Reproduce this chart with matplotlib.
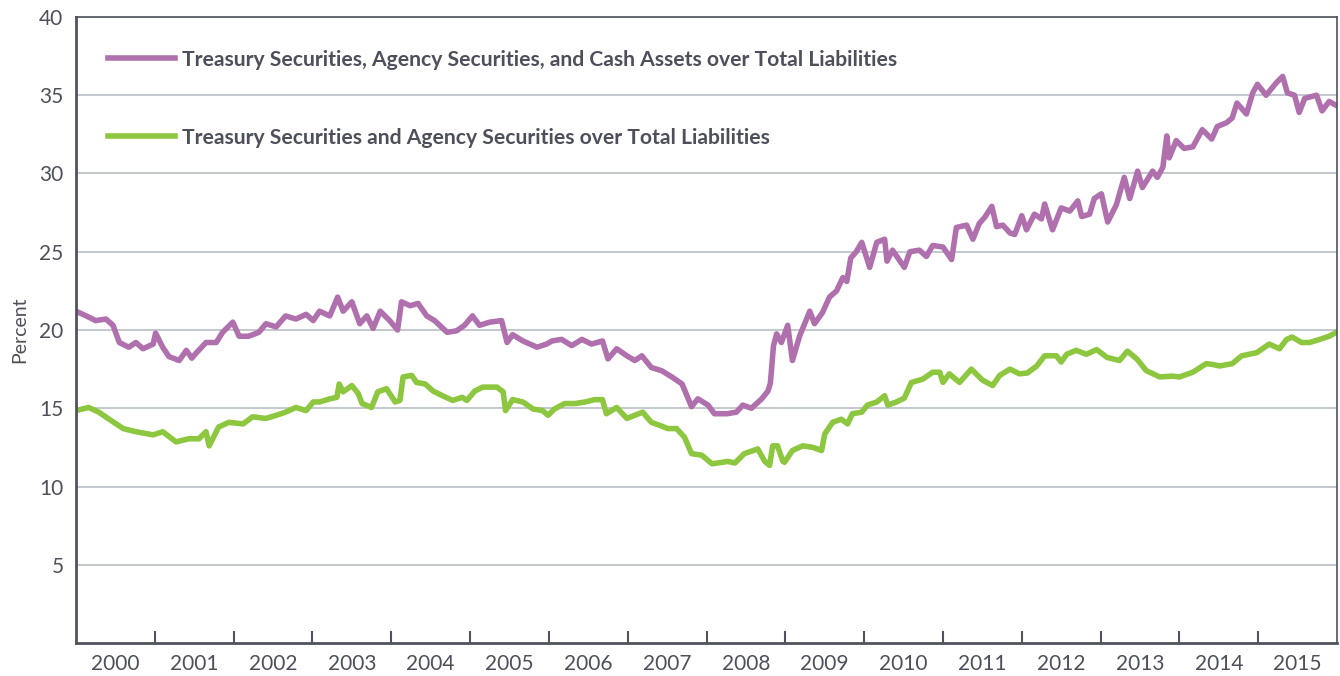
import numpy as np
import matplotlib
matplotlib.use("Agg")
import matplotlib.pyplot as plt

# Treasury + agency + cash assets over total liabilities (percent)
years_a = [2000.00, 2000.13, 2000.25, 2000.38, 2000.47, 2000.55, 2000.67, 2000.76, 2000.85, 2000.98,
           2001.01, 2001.10, 2001.18, 2001.31, 2001.40, 2001.47, 2001.52, 2001.65, 2001.78, 2001.86,
           2001.99, 2002.07, 2002.19, 2002.32, 2002.41, 2002.54, 2002.66, 2002.79, 2002.92, 2003.01,
           2003.09, 2003.22, 2003.32, 2003.39, 2003.50, 2003.60, 2003.69, 2003.77, 2003.86, 2003.98,
           2004.08, 2004.13, 2004.24, 2004.34, 2004.45, 2004.55, 2004.71, 2004.83, 2004.93, 2005.03,
           2005.12, 2005.25, 2005.40, 2005.47, 2005.54, 2005.67, 2005.85, 2005.97, 2006.04, 2006.16,
           2006.29, 2006.42, 2006.54, 2006.68, 2006.75, 2006.86, 2006.99, 2007.09, 2007.18, 2007.30,
           2007.43, 2007.56, 2007.69, 2007.81, 2007.89, 2008.02, 2008.10, 2008.26, 2008.38, 2008.46,
           2008.57, 2008.70, 2008.78, 2008.81, 2008.85, 2008.89, 2008.95, 2009.03, 2009.09, 2009.18,
           2009.31, 2009.37, 2009.47, 2009.56, 2009.65, 2009.73, 2009.78, 2009.83, 2009.90, 2009.97,
           2010.07, 2010.16, 2010.26, 2010.29, 2010.36, 2010.51, 2010.58, 2010.70, 2010.79, 2010.87,
           2011.00, 2011.11, 2011.17, 2011.30, 2011.38, 2011.46, 2011.53, 2011.62, 2011.68, 2011.76,
           2011.85, 2011.91, 2012.00, 2012.06, 2012.16, 2012.25, 2012.29, 2012.39, 2012.50, 2012.61,
           2012.71, 2012.76, 2012.86, 2012.92, 2013.01, 2013.09, 2013.20, 2013.30, 2013.37, 2013.47,
           2013.53, 2013.66, 2013.72, 2013.79, 2013.84, 2013.87, 2013.96, 2014.06, 2014.17, 2014.29,
           2014.41, 2014.48, 2014.60, 2014.67, 2014.73, 2014.85, 2014.93, 2014.99, 2015.10, 2015.23,
           2015.31, 2015.37, 2015.46, 2015.52, 2015.59, 2015.74, 2015.81, 2015.90, 2015.99]
with_cash = [21.2, 20.9, 20.6, 20.7, 20.3, 19.2, 18.9, 19.2, 18.8, 19.1,
             19.8, 18.9, 18.3, 18.05, 18.7, 18.2, 18.5, 19.2, 19.2, 19.85,
             20.5, 19.6, 19.6, 19.85, 20.4, 20.2, 20.9, 20.7, 21.0, 20.6,
             21.2, 20.9, 22.1, 21.2, 21.8, 20.4, 20.9, 20.1, 21.2, 20.6,
             20.0, 21.8, 21.55, 21.7, 20.9, 20.6, 19.85, 19.95, 20.3, 20.9,
             20.3, 20.5, 20.6, 19.2, 19.7, 19.3, 18.9, 19.1, 19.3, 19.4,
             19.0, 19.4, 19.1, 19.3, 18.15, 18.8, 18.35, 18.05, 18.35, 17.6,
             17.4, 17.0, 16.55, 15.1, 15.6, 15.2, 14.65, 14.65, 14.75, 15.2,
             15.0, 15.6, 16.1, 16.6, 19.0, 19.75, 19.2, 20.3, 18.05, 19.6,
             21.2, 20.4, 21.1, 22.1, 22.5, 23.35, 23.1, 24.6, 25.0, 25.6,
             24.0, 25.6, 25.8, 24.4, 25.1, 24.0, 25.0, 25.1, 24.7, 25.4,
             25.3, 24.5, 26.55, 26.7, 25.8, 26.8, 27.2, 27.9, 26.6, 26.7,
             26.2, 26.1, 27.3, 26.4, 27.4, 27.1, 28.05, 26.4, 27.8, 27.6,
             28.25, 27.25, 27.4, 28.4, 28.7, 26.9, 28.0, 29.75, 28.4, 30.15,
             29.1, 30.15, 29.75, 30.4, 32.4, 31.0, 32.1, 31.6, 31.7, 32.8,
             32.2, 33.0, 33.25, 33.55, 34.5, 33.8, 35.15, 35.7, 35.0, 35.8,
             36.2, 35.15, 35.0, 33.9, 34.8, 35.0, 34.0, 34.6, 34.35]

# Treasury + agency securities over total liabilities (percent)
years_b = [2000.00, 2000.16, 2000.29, 2000.42, 2000.60, 2000.76, 2000.98, 2001.10, 2001.27, 2001.43,
           2001.56, 2001.65, 2001.69, 2001.81, 2001.94, 2002.12, 2002.24, 2002.41, 2002.54, 2002.66,
           2002.79, 2002.92, 2003.01, 2003.09, 2003.22, 2003.31, 2003.34, 2003.39, 2003.50, 2003.58,
           2003.63, 2003.75, 2003.83, 2003.94, 2004.05, 2004.11, 2004.15, 2004.26, 2004.32, 2004.43,
           2004.53, 2004.65, 2004.78, 2004.90, 2004.96, 2005.06, 2005.16, 2005.34, 2005.42, 2005.45,
           2005.54, 2005.67, 2005.80, 2005.92, 2005.99, 2006.07, 2006.20, 2006.33, 2006.46, 2006.58,
           2006.68, 2006.73, 2006.86, 2006.99, 2007.09, 2007.19, 2007.30, 2007.41, 2007.51, 2007.62,
           2007.72, 2007.81, 2007.94, 2008.07, 2008.14, 2008.27, 2008.36, 2008.48, 2008.65, 2008.74,
           2008.80, 2008.84, 2008.90, 2008.97, 2008.99, 2009.09, 2009.22, 2009.35, 2009.46, 2009.50,
           2009.60, 2009.71, 2009.79, 2009.85, 2009.97, 2010.04, 2010.16, 2010.26, 2010.30, 2010.41,
           2010.51, 2010.60, 2010.74, 2010.87, 2010.96, 2011.00, 2011.08, 2011.21, 2011.36, 2011.50,
           2011.63, 2011.72, 2011.85, 2011.97, 2012.07, 2012.19, 2012.29, 2012.44, 2012.50, 2012.57,
           2012.69, 2012.82, 2012.95, 2013.08, 2013.24, 2013.34, 2013.46, 2013.58, 2013.75, 2013.91,
           2014.00, 2014.17, 2014.34, 2014.42, 2014.51, 2014.67, 2014.79, 2014.98, 2015.14, 2015.27,
           2015.36, 2015.43, 2015.55, 2015.65, 2015.78, 2015.90, 2015.99]
securities = [14.85, 15.05, 14.75, 14.3, 13.7, 13.5, 13.3, 13.5, 12.85, 13.05,
              13.05, 13.5, 12.6, 13.8, 14.1, 14.0, 14.45, 14.35, 14.55, 14.75,
              15.05, 14.85, 15.4, 15.4, 15.6, 15.7, 16.55, 16.05, 16.45, 15.95,
              15.3, 15.05, 16.05, 16.25, 15.4, 15.5, 17.0, 17.1, 16.65, 16.55,
              16.1, 15.8, 15.5, 15.7, 15.5, 16.1, 16.35, 16.35, 16.05, 14.85,
              15.55, 15.4, 14.95, 14.85, 14.55, 14.95, 15.3, 15.3, 15.4, 15.55,
              15.55, 14.65, 15.05, 14.35, 14.55, 14.75, 14.1, 13.9, 13.7, 13.7,
              13.15, 12.1, 12.0, 11.45, 11.5, 11.6, 11.5, 12.1, 12.4, 11.6,
              11.35, 12.6, 12.6, 11.6, 11.55, 12.3, 12.6, 12.5, 12.3, 13.35,
              14.1, 14.3, 14.0, 14.65, 14.75, 15.2, 15.4, 15.8, 15.2, 15.4,
              15.65, 16.65, 16.85, 17.3, 17.3, 16.65, 17.2, 16.65, 17.5, 16.8,
              16.45, 17.1, 17.5, 17.2, 17.25, 17.7, 18.35, 18.35, 17.95, 18.45,
              18.7, 18.45, 18.75, 18.25, 18.05, 18.65, 18.15, 17.4, 17.0, 17.05,
              17.0, 17.3, 17.85, 17.8, 17.7, 17.85, 18.35, 18.55, 19.1, 18.8,
              19.4, 19.55, 19.2, 19.2, 19.4, 19.6, 19.85]

year_labels = [str(y) for y in range(2000, 2016)]
label_a = "Treasury Securities, Agency Securities, and Cash Assets over Total Liabilities"
label_b = "Treasury Securities and Agency Securities over Total Liabilities"

text_color = "#4d505b"
purple = "#b070ae"
green = "#8dc63f"

plt.rcParams['font.family'] = ['Lato', 'DejaVu Sans']

fig = plt.figure(figsize=(13.4, 6.76), dpi=100)
ax = fig.add_axes([0.0567, 0.0488, 0.9411, 0.9261])

ax.plot(years_a, with_cash, color=purple, lw=4.0, solid_joinstyle='round', label=label_a)
ax.plot(years_b, securities, color=green, lw=4.0, solid_joinstyle='round', label=label_b)

ax.set_xlim(2000, 2016)
ax.set_ylim(0, 40)

# y axis: labels only, horizontal grid
ax.set_yticks(range(5, 45, 5))
ax.tick_params(axis='y', length=0, pad=9, labelsize=15, labelcolor=text_color)
ax.grid(axis='y', color='#b9bfc7', lw=1.2)
ax.set_axisbelow(True)
ax.set_ylabel("Percent", fontsize=14, color=text_color, labelpad=8)

# x axis: ticks at year boundaries, labels centred in each year
ax.set_xticks(range(2001, 2016))
ax.set_xticklabels([])
ax.set_xticks(np.arange(2000.5, 2016, 1), minor=True)
ax.set_xticklabels(year_labels, minor=True)
ax.tick_params(axis='x', which='major', direction='in', length=9, width=1.5, color='#50535e')
ax.tick_params(axis='x', which='minor', length=0, pad=8, labelsize=15, labelcolor=text_color)

for side in ['left', 'bottom']:
    ax.spines[side].set_color('#50535e')
    ax.spines[side].set_linewidth(2)
for side in ['top', 'right']:
    ax.spines[side].set_color('#50535e')
    ax.spines[side].set_linewidth(1.2)

leg = ax.legend(loc='upper left', bbox_to_anchor=(0.01, 0.978), frameon=False,
                handlelength=3.2, handletextpad=0.33, labelspacing=2.75,
                prop={'weight': 'bold', 'size': 15.2})
for t in leg.get_texts():
    t.set_color(text_color)

fig.savefig("out.png", dpi=100)
